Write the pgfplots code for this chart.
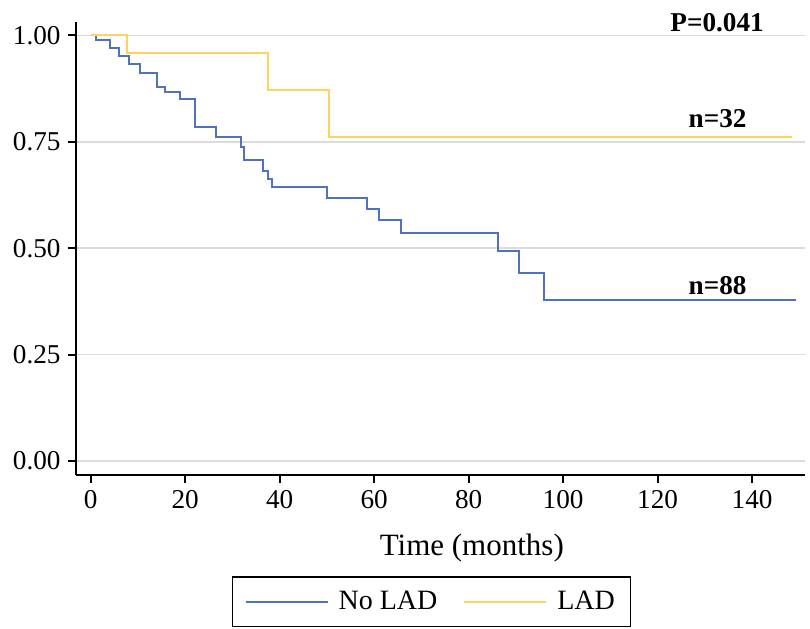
\documentclass[border=0pt]{standalone}
\usepackage{pgfplots}
\pgfplotsset{compat=1.18}
\usepackage{fontspec}
\setmainfont{Liberation Serif}
\definecolor{kmBlue}{HTML}{4F72C3}
\definecolor{kmGold}{HTML}{FFD45E}
\definecolor{gridGray}{HTML}{DCDCDC}

\begin{document}
\begin{tikzpicture}[x=1bp,y=1bp]
\useasboundingbox (0,0) rectangle (405,314.5);
\begin{axis}[
  at={(38bp,77.15bp)}, anchor=south west,
  width=364.5bp, height=226.5bp, scale only axis,
  xmin=-3.1, xmax=151.2, ymin=-0.032, ymax=1.032,
  clip mode=individual,
  axis lines=left,
  axis line style={-, line width=1bp, black},
  xtick={0,20,...,140},
  ytick={0,0.25,0.5,0.75,1},
  tick align=outside,
  major tick length=4.2bp,
  tick style={line width=1bp, black},
  /pgf/number format/assume math mode=true,
  ticklabel style={font=\fontsize{13.6bp}{16bp}\selectfont},
  yticklabel style={/pgf/number format/.cd, fixed, fixed zerofill, precision=2},
  ymajorgrids,
  grid style={gridGray, line width=0.8bp},
  xlabel={Time (months)},
  xlabel style={font=\fontsize{15.5bp}{18bp}\selectfont,
    at={(axis description cs:0.543,-0.1618)}, anchor=center},
  legend columns=2,
  legend cell align=left,
  legend style={at={(0.488,-0.2806)}, anchor=center, draw=black,
    line width=0.6bp, font=\fontsize{14bp}{16bp}\selectfont,
    inner xsep=6bp, inner ysep=5bp,
    /tikz/every even column/.append style={column sep=11bp}},
  legend image code/.code={\draw[#1, line width=1bp] (0bp,0bp) -- (41bp,0bp);
    \path (44bp,0bp);},
]
\addplot[const plot, kmBlue, line width=1bp] coordinates {
  (0,1) (1.05,0.988) (4.06,0.971) (6.0,0.952) (8.1,0.932) (10.4,0.911)
  (14.0,0.878) (15.8,0.867) (18.9,0.851) (22.1,0.785) (26.5,0.762)
  (31.8,0.738) (32.5,0.707) (36.4,0.682) (37.5,0.662) (38.4,0.643)
  (50.0,0.617) (58.4,0.592) (61.0,0.566) (65.7,0.535) (86.2,0.493)
  (90.6,0.441) (96.0,0.378) (149.3,0.378)};
\addlegendentry{No LAD}
\addplot[const plot, kmGold, line width=1bp] coordinates {
  (0,1) (7.6,0.958) (37.5,0.872) (50.4,0.762) (148.5,0.762)};
\addlegendentry{LAD}
\node[font=\fontsize{13.6bp}{16bp}\selectfont\bfseries] at (axis cs:132.6,1.030) {P=0.041};
\node[font=\fontsize{13.6bp}{16bp}\selectfont\bfseries] at (axis cs:132.7,0.805) {n=32};
\node[font=\fontsize{13.6bp}{16bp}\selectfont\bfseries] at (axis cs:132.7,0.413) {n=88};
\end{axis}
\end{tikzpicture}
\end{document}
